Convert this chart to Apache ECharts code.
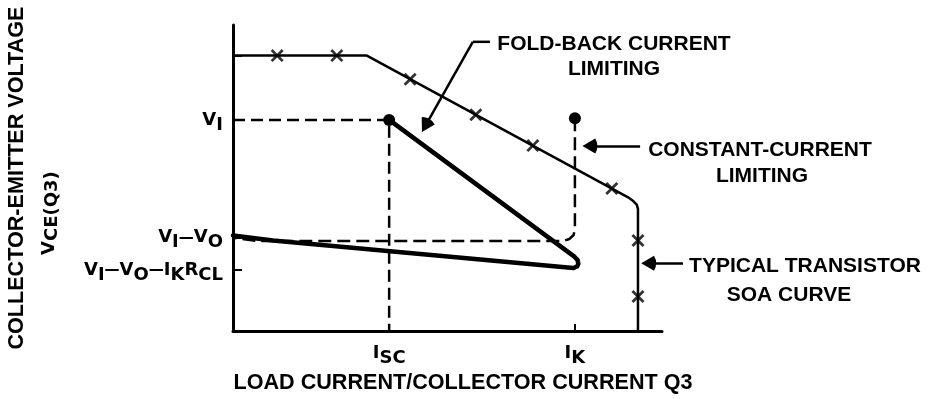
<!DOCTYPE html>
<html>
<head>
<meta charset="utf-8">
<script src="https://cdn.jsdelivr.net/npm/echarts@6/dist/echarts.min.js"></script>
<style>
html,body{margin:0;padding:0;background:#fff;}
#c{width:931px;height:399px;}
</style>
</head>
<body>
<div id="c"></div>
<script>
// ---- data (abstract units: x 0..10, y 0..10) ----
const soaX = [0, 3.12, 9.21, 9.32, 9.41, 9.44, 9.44];
const soaY = [9.0, 9.0, 4.37, 4.26, 4.13, 3.99, 0];
const soaMarkX = [1.03, 2.42, 4.13, 5.66, 6.99, 8.83, 9.44, 9.44];
const soaMarkY = [9.0, 9.0, 8.23, 7.07, 6.06, 4.66, 2.96, 1.13];
const foldX = [3.64, 7.95, 8.03, 8.05, 8.02, 7.93, 0.93, 0];
const foldY = [6.9, 2.44, 2.33, 2.2, 2.11, 2.06, 2.96, 3.12];
const ccX = [7.97, 7.97, 7.94, 7.84, 7.69, 0.6, 0];
const ccY = [6.95, 3.34, 3.14, 3.01, 2.94, 2.94, 3.05];
const iscX = [0, 3.64, 3.64];
const iscY = [6.9, 6.9, 0];
const dotX = [3.64, 7.97];
const dotY = [6.9, 6.95];

const xTickValues = [3.64, 7.97, 9.44];
const xLabelValues = [3.64, 7.97];
const xLabelTexts = ['{m|I}{s|SC}', '{m|I}{s|K}'];
const yTickValues = [2.0, 3.05, 6.9, 9.0];
const yLabelValues = [2.0, 3.05, 6.9];
const yLabelTexts = [
  '{m|V}{s|I}{d|—}{m|V}{s|O}{d|—}{m|I}{s|K}{m|R}{s|CL}',
  '{m|V}{s|I}{d|—}{m|V}{s|O}',
  '{m|V}{s|I}'
];

const leaderX = [5.99, 5.59];
const leaderY = [9.45, 9.45];
const arrowFromX = [5.59, 9.49, 10.49];
const arrowFromY = [9.45, 6.05, 2.22];
// arrowhead centres (the head is drawn centred on the end point)
const arrowToX = [4.49, 8.32, 9.69];
const arrowToY = [6.72, 6.05, 2.22];

const notes = ['FOLD-BACK CURRENT', 'LIMITING', 'CONSTANT-CURRENT', 'LIMITING', 'TYPICAL TRANSISTOR', 'SOA CURVE'];

// ---- build ----
const zip = (a, b) => a.map((v, i) => [v, b[i]]);
const pick = (vals, texts, v) => {
  const i = vals.findIndex(x => Math.abs(x - v) < 1e-6);
  return i < 0 ? '' : texts[i];
};
const BOLD = {fontFamily: 'DejaVu Sans', fontWeight: 'bold', fontSize: 18, color: '#000'};
const richLbl = {
  m: Object.assign({}, BOLD),
  s: Object.assign({}, BOLD, {padding: [10, 0, 0, 0]}),
  d: Object.assign({}, BOLD, {fontSize: 15})
};
const TITLE = {fontFamily: 'Liberation Sans', fontWeight: 'bold', fontSize: 21.6, color: '#000'};
const noteFont = 'bold 21px "Liberation Sans"';
const notePos = [[614, 44], [614, 69], [760, 150], [762, 176], [805, 266], [789, 295]];

const chart = echarts.init(document.getElementById('c'), null, {renderer: 'canvas'});
const X_PATH = 'path://M3,0 L10,7 L17,0 L20,3 L13,10 L20,17 L17,20 L10,13 L3,20 L0,17 L7,10 L0,3 Z';
const ARROW_PATH = 'path://M6,0 L12,12 Q6,16 0,12 Z';

chart.setOption({
  animation: false,
  backgroundColor: '#fff',
  grid: {left: 233, right: 269, top: 25, bottom: 63},
  xAxis: {
    type: 'value', min: 0, max: 10,
    axisLine: {show: true, onZero: false, lineStyle: {color: '#000', width: 3}},
    axisTick: {show: true, inside: true, length: 7, lineStyle: {color: '#000', width: 2}, customValues: xTickValues},
    axisLabel: {customValues: xLabelValues, margin: 8, formatter: v => pick(xLabelValues, xLabelTexts, v), rich: richLbl},
    splitLine: {show: false},
    name: 'LOAD CURRENT/COLLECTOR CURRENT Q3',
    nameLocation: 'middle', nameGap: 38,
    nameTextStyle: Object.assign({}, TITLE, {padding: [0, 0, 0, 31]})
  },
  yAxis: {
    type: 'value', min: 0, max: 10,
    axisLine: {show: true, onZero: false, lineStyle: {color: '#000', width: 3}},
    axisTick: {show: true, inside: true, length: 9, lineStyle: {color: '#000', width: 2}, customValues: yTickValues},
    axisLabel: {customValues: yLabelValues, margin: 10, formatter: v => pick(yLabelValues, yLabelTexts, v), rich: richLbl},
    splitLine: {show: false},
    name: '{t|COLLECTOR-EMITTER VOLTAGE}\n{v|V}{c|CE(Q3)}',
    nameLocation: 'middle', nameRotate: 90, nameGap: 169,
    nameTextStyle: {
      rich: {
        t: Object.assign({}, TITLE, {lineHeight: 34}),
        v: Object.assign({}, BOLD, {lineHeight: 30}),
        c: Object.assign({}, BOLD, {lineHeight: 30, padding: [7, 70, 0, 0]})
      }
    }
  },
  series: [
    {type: 'line', data: zip(iscX, iscY), showSymbol: false, silent: true,
     lineStyle: {color: '#000', width: 2.5, type: [12, 6]}},
    {type: 'line', data: zip(ccX, ccY), showSymbol: false, silent: true,
     lineStyle: {color: '#000', width: 2.5, type: [13, 6]}},
    {type: 'line', data: zip(soaX, soaY), showSymbol: false, silent: true,
     lineStyle: {color: '#000', width: 2.5, join: 'round'}},
    {type: 'scatter', data: zip(soaMarkX, soaMarkY), symbol: X_PATH, symbolSize: 13, silent: true,
     itemStyle: {color: '#000'}},
    {type: 'line', data: zip(foldX, foldY), showSymbol: false, silent: true,
     lineStyle: {color: '#000', width: 4.5, join: 'round', cap: 'round'}},
    {type: 'scatter', data: zip(dotX, dotY), symbol: 'circle', symbolSize: 12, silent: true,
     itemStyle: {color: '#000', opacity: 1}},
    {type: 'line', data: zip(leaderX, leaderY), showSymbol: false, silent: true, clip: false,
     lineStyle: {color: '#000', width: 2.5}},
    {type: 'lines', coordinateSystem: 'cartesian2d', clip: false, silent: true,
     symbol: ['none', ARROW_PATH], symbolSize: [12, 15],
     itemStyle: {color: '#000'},
     lineStyle: {color: '#000', width: 2.5, opacity: 1},
     data: arrowFromX.map((x, i) => ({coords: [[x, arrowFromY[i]], [arrowToX[i], arrowToY[i]]]}))}
  ],
  graphic: notes.map((t, i) => ({
    type: 'text', x: notePos[i][0], y: notePos[i][1], silent: true,
    style: {text: t, font: noteFont, fill: '#000', align: 'center', verticalAlign: 'middle'}
  }))
});
</script>
</body>
</html>
